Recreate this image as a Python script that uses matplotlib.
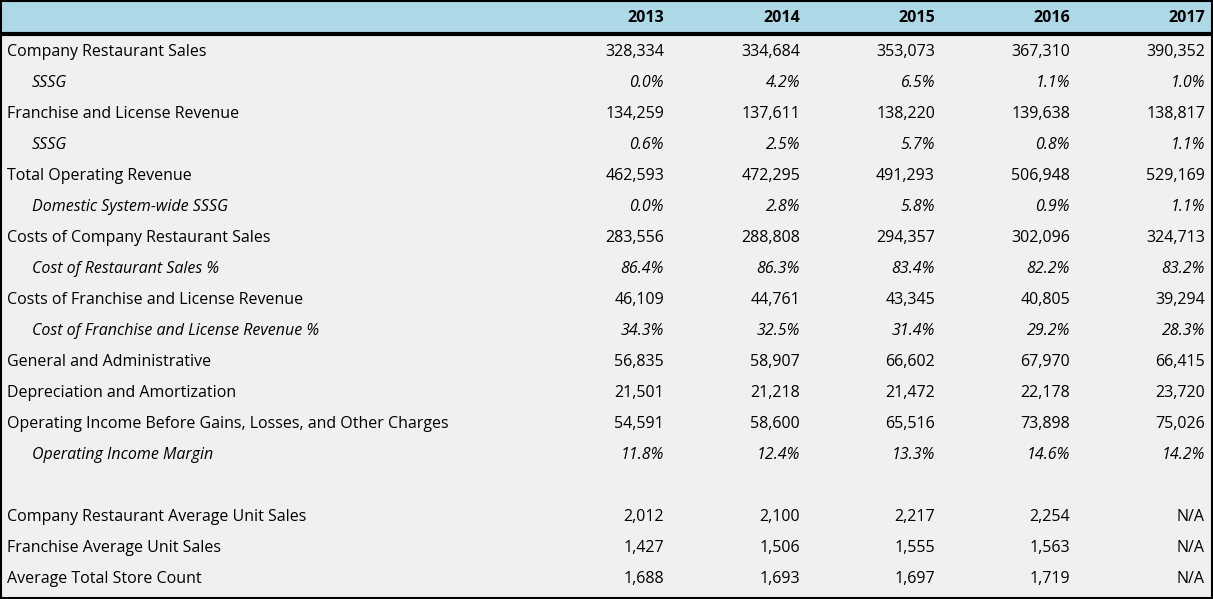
import matplotlib.pyplot as plt
from matplotlib.patches import Rectangle

years = ["2013", "2014", "2015", "2016", "2017"]
labels = [
    "Company Restaurant Sales", "SSSG", "Franchise and License Revenue", "SSSG",
    "Total Operating Revenue", "Domestic System-wide SSSG",
    "Costs of Company Restaurant Sales", "Cost of Restaurant Sales %",
    "Costs of Franchise and License Revenue", "Cost of Franchise and License Revenue %",
    "General and Administrative", "Depreciation and Amortization",
    "Operating Income Before Gains, Losses, and Other Charges", "Operating Income Margin",
    "", "Company Restaurant Average Unit Sales", "Franchise Average Unit Sales",
    "Average Total Store Count",
]
italic_rows = [1, 3, 5, 7, 9, 13]
values = [
    ["328,334", "334,684", "353,073", "367,310", "390,352"],
    ["0.0%", "4.2%", "6.5%", "1.1%", "1.0%"],
    ["134,259", "137,611", "138,220", "139,638", "138,817"],
    ["0.6%", "2.5%", "5.7%", "0.8%", "1.1%"],
    ["462,593", "472,295", "491,293", "506,948", "529,169"],
    ["0.0%", "2.8%", "5.8%", "0.9%", "1.1%"],
    ["283,556", "288,808", "294,357", "302,096", "324,713"],
    ["86.4%", "86.3%", "83.4%", "82.2%", "83.2%"],
    ["46,109", "44,761", "43,345", "40,805", "39,294"],
    ["34.3%", "32.5%", "31.4%", "29.2%", "28.3%"],
    ["56,835", "58,907", "66,602", "67,970", "66,415"],
    ["21,501", "21,218", "21,472", "22,178", "23,720"],
    ["54,591", "58,600", "65,516", "73,898", "75,026"],
    ["11.8%", "12.4%", "13.3%", "14.6%", "14.2%"],
    ["", "", "", "", ""],
    ["2,012", "2,100", "2,217", "2,254", "N/A"],
    ["1,427", "1,506", "1,555", "1,563", "N/A"],
    ["1,688", "1,693", "1,697", "1,719", "N/A"],
]

W, H = 1213, 599
fig = plt.figure(figsize=(W / 100, H / 100), dpi=100)
ax = fig.add_axes([0, 0, 1, 1])
ax.set_xlim(0, W)
ax.set_ylim(H, 0)
ax.axis("off")
plt.rcParams["font.family"] = ["Open Sans", "DejaVu Sans"]

ax.add_patch(Rectangle((0, 0), W, H, facecolor="#f0f0f0", edgecolor="none"))
ax.add_patch(Rectangle((0, 0), W, 33, facecolor="#add8e6", edgecolor="none"))
ax.plot([0, W], [33.5, 33.5], color="black", lw=3)
ax.add_patch(Rectangle((1, 1), W - 2, H - 2, facecolor="none", edgecolor="black", lw=1.5))

col_right = [664, 800, 935, 1070, 1205]
fs = 11.5
for x, y in zip(col_right, years):
    ax.text(x, 18, y, ha="right", va="center", fontsize=fs, fontweight="bold")

for i, (lab, row) in enumerate(zip(labels, values)):
    y = 52 + i * 31
    it = i in italic_rows
    style = "italic" if it else "normal"
    ax.text(32 if it else 7, y, lab, ha="left", va="center", fontsize=fs, style=style)
    for x, v in zip(col_right, row):
        ax.text(x, y, v, ha="right", va="center", fontsize=fs, style=style)

fig.savefig("out.png", dpi=100)
